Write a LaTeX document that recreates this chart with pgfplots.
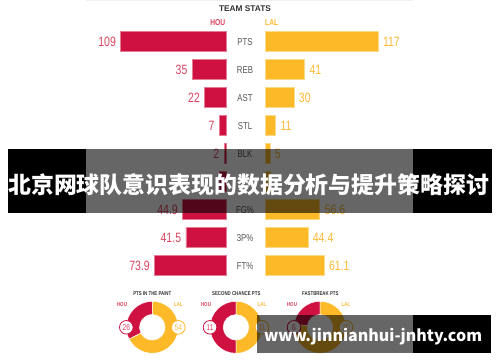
\documentclass[border=0pt]{standalone}
\usepackage{fontspec}
\setmainfont{Liberation Sans}
\newfontfamily\cond{Liberation Sans}[FakeStretch=0.78]
\newfontfamily\cjk{Noto Sans CJK SC}
\usepackage{pgfplots}
\pgfplotsset{compat=1.18}
\usepackage{pgfplotstable}
\usetikzlibrary{calc}
\definecolor{hou}{HTML}{CE1141}
\definecolor{lal}{HTML}{FDB927}
\definecolor{houtxt}{HTML}{D9445F}
\definecolor{laltxt}{HTML}{FDBA35}
\definecolor{cat}{HTML}{555555}
\definecolor{ttl}{HTML}{333333}

\pgfplotstableread{
y x lab
0 109 109
1 35 35
2 22 22
3 7 7
4 2 2
5 7 {}
6 44.9 44.9
7 41.5 41.5
8 73.9 73.9
}\houtable
\pgfplotstableread{
y x lab
0 117 117
1 41 41
2 30 30
3 11 11
4 5 5
5 5 {}
6 56.6 56.6
7 44.4 44.4
8 61.1 61.1
}\laltable

% donut: cx cy hou lal (pixel coordinates, y from top)
\newcommand\donut[4]{%
  \fill[hou,draw=white,line width=0.5pt] ($(axis cs:#1,#2)+(90:26pt)$) arc[start angle=90,end angle={90+360*#3/(#3+#4)},radius=26pt]
     -- ($(axis cs:#1,#2)+({90+360*#3/(#3+#4)}:12.8pt)$) arc[start angle={90+360*#3/(#3+#4)},end angle=90,radius=12.8pt] -- cycle;
  \fill[lal,draw=white,line width=0.5pt] ($(axis cs:#1,#2)+({90+360*#3/(#3+#4)}:26pt)$) arc[start angle={90+360*#3/(#3+#4)},end angle=450,radius=26pt]
     -- ($(axis cs:#1,#2)+(90:12.8pt)$) arc[start angle=450,end angle={90+360*#3/(#3+#4)},radius=12.8pt] -- cycle;
}

\begin{document}
\begin{tikzpicture}
\path[use as bounding box] (0pt,0pt) rectangle (500pt,362pt);
\fill[white] (0pt,0pt) rectangle (500pt,362pt);
\fill[black!6] (86pt,360.5pt) rectangle (413pt,362pt);

\node[font=\bfseries\fontsize{8.3}{9}\selectfont, text=ttl] at (245pt,353.3pt) {TEAM STATS};
\node[font=\cond\bfseries\fontsize{8.6}{9}\selectfont, text=houtxt, anchor=east, inner sep=0pt] at (225.5pt,339pt) {HOU};
\node[font=\cond\bfseries\fontsize{8.6}{9}\selectfont, text=laltxt, anchor=west, inner sep=0pt] at (265pt,339pt) {LAL};

% HOU bars
\begin{axis}[
  at={(226pt,334.3pt)}, anchor=north east,
  scale only axis, width=115.92pt, height=252pt,
  xmin=0, xmax=120, ymin=-0.5, ymax=8.5,
  x dir=reverse, y dir=reverse,
  xbar, bar width=20pt,
  axis line style={draw=none}, xtick=\empty, ytick=\empty,
  point meta=explicit symbolic,
  nodes near coords,
  every node near coord/.append style={anchor=east, inner sep=0pt, xshift=-4.5pt,
     text=houtxt, font=\cond\fontsize{13.5}{14}\selectfont},
  clip=false,
]
\addplot[fill=hou, draw=hou!55!white, line width=0.6pt] table[x=x,y=y,meta=lab] {\houtable};
\end{axis}

% LAL bars
\begin{axis}[
  at={(265pt,334.3pt)}, anchor=north west,
  scale only axis, width=115.92pt, height=252pt,
  xmin=0, xmax=120, ymin=-0.5, ymax=8.5,
  y dir=reverse,
  xbar, bar width=20pt,
  axis line style={draw=none}, xtick=\empty, major tick length=0pt,
  ytick={0,1,2,3,4,6,7,8},
  yticklabels={PTS,REB,AST,STL,BLK,FG\%,3P\%,FT\%},
  yticklabel style={anchor=center, xshift=-20pt, text=cat, font=\cond\fontsize{10}{11}\selectfont},
  point meta=explicit symbolic,
  nodes near coords,
  every node near coord/.append style={anchor=west, inner sep=0pt, xshift=4.7pt,
     text=laltxt, font=\cond\fontsize{13.5}{14}\selectfont},
  clip=false,
]
\addplot[fill=lal, draw=lal!55!white, line width=0.6pt] table[x=x,y=y,meta=lab] {\laltable};
\end{axis}

% donuts
\begin{axis}[
  at={(0pt,0pt)}, anchor=south west,
  scale only axis, width=500pt, height=362pt,
  xmin=0, xmax=500, ymin=0, ymax=362, y dir=reverse,
  hide axis, clip=false,
]
\donut{152.3}{327.3}{26}{54}
\donut{236}{327.3}{11}{11}
\donut{320}{327.3}{6}{20}
\node[circle, fill=white, draw=hou, line width=0.8pt, minimum size=13.6pt, inner sep=0pt, text=houtxt, font=\cond\fontsize{8.5}{9}\selectfont] at (axis cs:126.3,327.3) {26};
\node[circle, fill=white, draw=lal, line width=0.8pt, minimum size=13.6pt, inner sep=0pt, text=laltxt, font=\cond\fontsize{8.5}{9}\selectfont] at (axis cs:178.3,327.3) {54};
\node[circle, fill=white, draw=hou, line width=0.8pt, minimum size=13.6pt, inner sep=0pt, text=houtxt, font=\cond\fontsize{8.5}{9}\selectfont] at (axis cs:210,327.3) {11};
\node[circle, fill=white, draw=lal, line width=0.8pt, minimum size=13.6pt, inner sep=0pt, text=laltxt, font=\cond\fontsize{8.5}{9}\selectfont] at (axis cs:262,327.3) {11};
\node[circle, fill=white, draw=hou, line width=0.8pt, minimum size=13.6pt, inner sep=0pt, text=houtxt, font=\cond\fontsize{8.5}{9}\selectfont] at (axis cs:294,327.3) {6};
\node[circle, fill=white, draw=lal, line width=0.8pt, minimum size=13.6pt, inner sep=0pt, text=laltxt, font=\cond\fontsize{8.5}{9}\selectfont] at (axis cs:346,327.3) {20};
\node[font=\cond\bfseries\fontsize{5.6}{6}\selectfont, text=ttl] at (axis cs:152.3,293.5) {PTS IN THE PAINT};
\node[font=\cond\bfseries\fontsize{5.6}{6}\selectfont, text=ttl] at (axis cs:236.3,293.5) {SECOND CHANCE PTS};
\node[font=\cond\bfseries\fontsize{5.6}{6}\selectfont, text=ttl] at (axis cs:320.3,293.5) {FASTBREAK PTS};
\node[font=\cond\bfseries\fontsize{5.8}{6}\selectfont, text=houtxt] at (axis cs:122,304.3) {HOU};
\node[font=\cond\bfseries\fontsize{5.8}{6}\selectfont, text=laltxt] at (axis cs:178.3,304.3) {LAL};
\node[font=\cond\bfseries\fontsize{5.8}{6}\selectfont, text=houtxt] at (axis cs:206,304.3) {HOU};
\node[font=\cond\bfseries\fontsize{5.8}{6}\selectfont, text=laltxt] at (axis cs:262,304.3) {LAL};
\node[font=\cond\bfseries\fontsize{5.8}{6}\selectfont, text=houtxt] at (axis cs:292,304.3) {HOU};
\node[font=\cond\bfseries\fontsize{5.8}{6}\selectfont, text=laltxt] at (axis cs:346,304.3) {LAL};
\end{axis}

% banner overlay
\fill[black] (8pt,148.7pt) rectangle (86pt,213pt);
\fill[black, opacity=0.6] (86pt,148.7pt) rectangle (413pt,213pt);
\fill[black] (413pt,148.7pt) rectangle (492pt,213pt);
\node[text=white, font=\cjk\bfseries\fontsize{22.9}{24}\selectfont, inner sep=0pt] at (248.7pt,177pt) {北京网球队意识表现的数据分析与提升策略探讨};

% watermark overlay
\fill[black, opacity=0.6] (257pt,9.3pt) rectangle (413pt,47pt);
\fill[black] (413pt,9.3pt) rectangle (490.7pt,47pt);
\node[text=white, font=\cjk\bfseries\fontsize{16}{17}\selectfont, inner sep=0pt] at (373pt,25.3pt) {www.jinnianhui-jnhty.com};
\end{tikzpicture}
\end{document}
